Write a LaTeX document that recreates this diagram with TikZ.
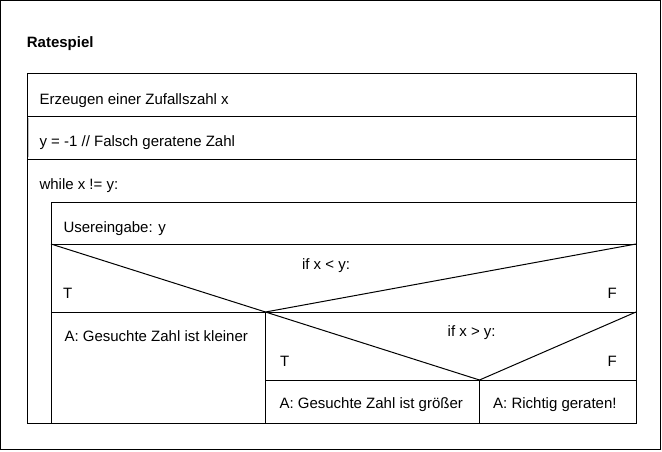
\documentclass[tikz,border=0pt]{standalone}
\usepackage{fontspec}
\setmainfont{Liberation Sans}
\begin{document}
\begin{tikzpicture}[x=1pt,y=-1pt,
  ln/.style={draw=black,line width=1pt},
  txt/.style={inner sep=0pt,anchor=base west,font=\fontsize{15}{18}\selectfont},
  txtc/.style={txt,anchor=base},
  txtr/.style={txt,anchor=base east}]
\useasboundingbox (0,0) rectangle (662,451);
\fill[white] (0,0) rectangle (662,451);
% outer frame
\draw[ln] (0.5,0.5) rectangle (660.5,449.5);
% coordinates
\coordinate (L) at (27,73);
\coordinate (R) at (636,423);
\coordinate (A1) at (265.5,312);
\coordinate (A2) at (479.5,380);
% main box
\draw[ln] (27,73) rectangle (636,423);
\draw[ln] (27,116) -- (636,116);
\draw[ln] (27,159) -- (636,159);
\draw[draw=black!25,line width=1.3pt] (28.6,118) -- (28.6,157);
% while body
\draw[ln] (51,423) -- (51,202) -- (636,202);
\draw[ln] (51,244) -- (636,244);
\draw[ln] (51,312) -- (636,312);
\draw[ln] (51,244) -- (A1) -- (636,244);
\draw[ln] (A1) -- (A2) -- (636,312);
\draw[ln] (A1) -- (265.5,423);
\draw[ln] (265.5,380) -- (636,380);
\draw[ln] (A2) -- (479.5,423);
% texts
\node[txt,font=\fontsize{15}{18}\selectfont\bfseries] (title) at (26.7,47.3) {Ratespiel};
\node[txt] (t1) at (39.3,104) {Erzeugen einer Zufallszahl x};
\node[txt] (t2) at (39.3,146) {y = -1 // Falsch geratene Zahl};
\node[txt] (t3) at (39.3,189.3) {while x != y:};
\node[txt] (t4) at (63.3,232) {Usereingabe: y};
\node[txtc] (if1) at (326,269) {if x < y:};
\node[txt] (T1) at (63,298) {T};
\node[txtr] (F1) at (617,298) {F};
\node[txt] (a1) at (64.3,341.7) {A: Gesuchte Zahl ist kleiner};
\node[txtc] (if2) at (471.7,336.7) {if x > y:};
\node[txt] (T2) at (280,366.7) {T};
\node[txtr] (F2) at (617,366.7) {F};
\node[txt] (a2) at (279.3,408) {A: Gesuchte Zahl ist größer};
\node[txt] (a3) at (493,408) {A: Richtig geraten!};
\end{tikzpicture}
\end{document}
